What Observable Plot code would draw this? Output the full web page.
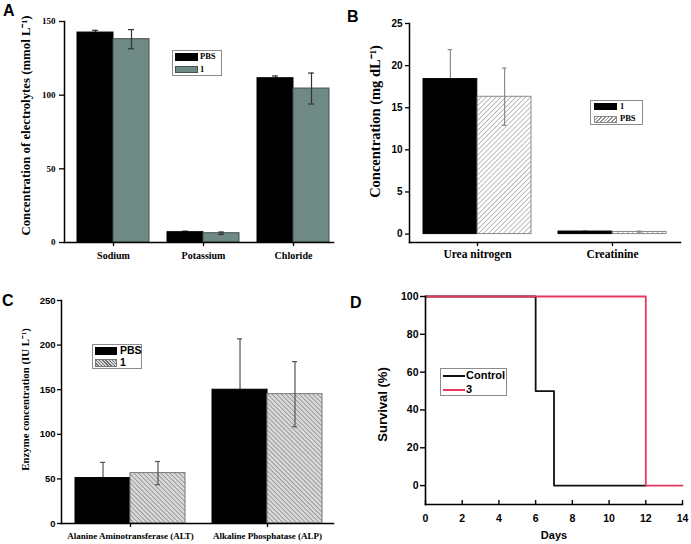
<!DOCTYPE html>
<html>
<head>
<meta charset="utf-8">
<script src="https://cdn.jsdelivr.net/npm/d3@7"></script>
<script src="https://cdn.jsdelivr.net/npm/@observablehq/plot@0.6"></script>
<style>
  body { margin: 0; background: #fff; }
  #root { position: relative; width: 691px; height: 544px; overflow: hidden; background: #fff; }
  .panel { position: absolute; }
  .letter { position: absolute; font-family: "Liberation Sans", Arial, sans-serif; font-weight: bold; font-size: 16px; line-height: 16px; color: #000; }
  .legend { position: absolute; border: 1px solid #8c8c8c; background: #fff; box-sizing: border-box; }
  .sw { position: absolute; box-sizing: border-box; }
  .lab { position: absolute; font-weight: bold; color: #000; white-space: nowrap; line-height: 1; }
</style>
</head>
<body>
<div id="root"></div>
<script>
// ---------- Data ----------
// Panel A: electrolytes
const catsA = ["Sodium", "Potassium", "Chloride"];
const pbsA = [142.5, 7.0, 111.5];
const pbsErrA = [1.5, 0.7, 1.5];
const oneA = [138.0, 6.3, 104.5];
const oneErrA = [6.5, 0.8, 10.5];
const ticksA = [0, 50, 100, 150];

// Panel B: kidney function
const catsB = ["Urea nitrogen", "Creatinine"];
const oneB = [18.4, 0.3];
const oneErrB = [3.5, 0.05];
const pbsB = [16.3, 0.25];
const pbsErrB = [3.4, 0.1];
const ticksB = [0, 5, 10, 15, 20, 25];

// Panel C: enzymes
const catsC = ["Alanine Aminotransferase (ALT)", "Alkaline Phosphatase (ALP)"];
const pbsC = [51, 150];
const pbsErrC = [17.5, 57];
const oneC = [56.5, 145];
const oneErrC = [13, 36.5];
const ticksC = [0, 50, 100, 150, 200, 250];

// Panel D: survival
const controlDays = [0, 6, 7, 12];
const controlSurv = [100, 50, 0, 0];
const threeDays = [0, 12, 14];
const threeSurv = [100, 0, 0];
const ticksDx = [0, 2, 4, 6, 8, 10, 12, 14];
const ticksDy = [0, 20, 40, 60, 80, 100];

// ---------- Helpers ----------
const root = document.getElementById("root");
const SERIF = '"Liberation Serif", "Times New Roman", serif';
const SANS = '"Liberation Sans", Arial, sans-serif';

function place(el, left, top) {
  el.classList.add("panel");
  el.style.left = left + "px";
  el.style.top = top + "px";
  root.appendChild(el);
}

function addDefs(svg, html) {
  const defs = document.createElementNS("http://www.w3.org/2000/svg", "defs");
  defs.innerHTML = html;
  svg.insertBefore(defs, svg.firstChild);
}

function barPanel(cfg) {
  const { W, H, ml, mr, mt, mb, cats, s1, s2, yDomain, yTicks, pi, po, align,
          yFont, xFont, yFontSize, xFontSize, yLabel, yLabelFont, yLabelSize, yLabelX, yLabelY,
          errColor, cap, xTickPad, yTickSize, yTickPad } = cfg;
  const xs = Plot.scale({ x: { type: "band", domain: cats, range: [ml, W - mr], paddingInner: pi, paddingOuter: po, align } });
  const bw = xs.bandwidth;
  const half = bw / 2;
  const rows = cats.map((c, i) => ({ cat: c, v1: s1.values[i], e1: s1.err[i], v2: s2.values[i], e2: s2.err[i] }));
  const c1 = bw / 4, c2 = 3 * bw / 4;
  const frameCY = (mt + H - mb) / 2;
  const svg = Plot.plot({
    width: W, height: H,
    marginLeft: ml, marginRight: mr, marginTop: mt, marginBottom: mb,
    style: { background: "transparent", color: "#000" },
    x: { type: "band", domain: cats, paddingInner: pi, paddingOuter: po, align },
    y: { domain: yDomain },
    marks: [
      // error bars of series 1 (drawn behind its bars)
      Plot.ruleX(rows, { x: "cat", y1: d => d.v1 - d.e1, y2: d => d.v1 + d.e1, dx: -bw / 4, stroke: errColor, strokeWidth: 1.2 }),
      Plot.tickY(rows, { x: "cat", y: d => d.v1 + d.e1, insetLeft: c1 - cap / 2, insetRight: bw - c1 - cap / 2, stroke: errColor, strokeWidth: 1.2 }),
      Plot.barY(rows, { x: "cat", y: "v1", fill: s1.fill, stroke: s1.stroke, strokeWidth: 1, insetRight: half }),
      Plot.barY(rows, { x: "cat", y: "v2", fill: s2.fill, stroke: s2.stroke, strokeWidth: 1, insetLeft: half }),
      // error bars of series 2
      Plot.ruleX(rows, { x: "cat", y1: d => d.v2 - d.e2, y2: d => d.v2 + d.e2, dx: bw / 4, stroke: errColor, strokeWidth: 1.2 }),
      Plot.tickY(rows, { x: "cat", y: d => d.v2 + d.e2, insetLeft: c2 - cap / 2, insetRight: bw - c2 - cap / 2, stroke: errColor, strokeWidth: 1.2 }),
      Plot.tickY(rows, { x: "cat", y: d => d.v2 - d.e2, insetLeft: c2 - cap / 2, insetRight: bw - c2 - cap / 2, stroke: errColor, strokeWidth: 1.2 }),
      Plot.frame({ anchor: "left", strokeWidth: 1.5 }),
      Plot.frame({ anchor: "bottom", strokeWidth: 1.5 }),
      Plot.axisY({ ticks: yTicks, tickSize: yTickSize, tickPadding: yTickPad, strokeWidth: 1.3, label: null,
                   fontFamily: yFont, fontSize: yFontSize, fontWeight: "bold" }),
      Plot.axisX({ tickSize: 4, tickPadding: xTickPad, strokeWidth: 1.3, label: null,
                   fontFamily: xFont, fontSize: xFontSize, fontWeight: "bold" }),
      Plot.text([yLabel], { text: d => d, frameAnchor: "left", textAnchor: "middle", lineAnchor: "middle", rotate: -90,
                            dx: yLabelX - ml, dy: yLabelY - frameCY,
                            fontFamily: yLabelFont, fontSize: yLabelSize, fontWeight: "bold", fill: "#000" })
    ]
  });
  return svg;
}

function legend(box, items, font, size) {
  const lg = document.createElement("div");
  lg.className = "legend";
  Object.assign(lg.style, { left: box.left + "px", top: box.top + "px", width: box.w + "px", height: box.h + "px" });
  items.forEach((it, i) => {
    const row = box.rows[i];
    if (it.line) {
      const ln = document.createElement("div");
      ln.className = "sw";
      Object.assign(ln.style, { left: box.swLeft + "px", top: (row - 1) + "px", width: box.swW + "px", height: "2px", background: it.line });
      lg.appendChild(ln);
    } else {
      const sw = document.createElement("div");
      sw.className = "sw";
      Object.assign(sw.style, { left: box.swLeft + "px", top: (row - box.swH / 2) + "px", width: box.swW + "px", height: box.swH + "px",
        background: it.bg, border: "1px solid " + it.border });
      lg.appendChild(sw);
    }
    const lb = document.createElement("div");
    lb.className = "lab";
    lb.textContent = it.name;
    Object.assign(lb.style, { left: box.labLeft + "px", top: (row - size * 0.55) + "px", fontFamily: font, fontSize: size + "px" });
    lg.appendChild(lb);
  });
  root.appendChild(lg);
}

function letter(t, left, top) {
  const d = document.createElement("div");
  d.className = "letter";
  d.textContent = t;
  d.style.left = left + "px";
  d.style.top = top + "px";
  root.appendChild(d);
}

// ---------- Panel A ----------
const grayA = "#6f8985";
const svgA = barPanel({
  W: 345, H: 272, ml: 64, mr: 12, mt: 21, mb: 30,
  cats: catsA,
  s1: { values: pbsA, err: pbsErrA, fill: "#000", stroke: "#000" },
  s2: { values: oneA, err: oneErrA, fill: grayA, stroke: "#44524f" },
  yDomain: [0, 150], yTicks: ticksA, pi: 0.2, po: 0.094, align: 0.75,
  yFont: SERIF, xFont: SERIF, yFontSize: 9, xFontSize: 10,
  yLabel: "Concentration of electrolytes (mmol L⁻¹)", yLabelFont: SERIF, yLabelSize: 12.8, yLabelX: 25, yLabelY: 125,
  errColor: "#333", cap: 6, xTickPad: 5, yTickSize: 5, yTickPad: 4
});
place(svgA, 0, 0);

// ---------- Panel B ----------
const svgB = barPanel({
  W: 346, H: 272, ml: 64, mr: 11, mt: 23, mb: 30,
  cats: catsB,
  s1: { values: oneB, err: oneErrB, fill: "#000", stroke: "#000" },
  s2: { values: pbsB, err: pbsErrB, fill: "url(#hatchB)", stroke: "#8a8a8a" },
  yDomain: [-1, 25], yTicks: ticksB, pi: 0.2, po: 0.1, align: 0.5,
  yFont: SANS, xFont: SERIF, yFontSize: 10, xFontSize: 11.5,
  yLabel: "Concentration (mg dL⁻¹)", yLabelFont: SERIF, yLabelSize: 14.5, yLabelX: 30, yLabelY: 121,
  errColor: "#8c8c8c", cap: 5, xTickPad: 3, yTickSize: 4, yTickPad: 3
});
addDefs(svgB, `<pattern id="hatchB" width="3.5" height="3.5" patternUnits="userSpaceOnUse" patternTransform="rotate(45)">
  <rect width="3.5" height="3.5" fill="#fff"/><line x1="0" y1="0" x2="0" y2="3.5" stroke="#8f8f8f" stroke-width="1.2"/></pattern>`);
place(svgB, 345, 0);

// ---------- Panel C ----------
const svgC = barPanel({
  W: 345, H: 272, ml: 61, mr: 12, mt: 28, mb: 21,
  cats: catsC,
  s1: { values: pbsC, err: pbsErrC, fill: "#000", stroke: "#000" },
  s2: { values: oneC, err: oneErrC, fill: "url(#hatchC)", stroke: "#777" },
  yDomain: [0, 250], yTicks: ticksC, pi: 0.2, po: 0.09, align: 0.55,
  yFont: SANS, xFont: SERIF, yFontSize: 9.5, xFontSize: 9,
  yLabel: "Enzyme concentration (IU L⁻¹)", yLabelFont: SERIF, yLabelSize: 10.8, yLabelX: 25, yLabelY: 127,
  errColor: "#555", cap: 5, xTickPad: 5, yTickSize: 4, yTickPad: 2
});
addDefs(svgC, `<pattern id="hatchC" width="3.2" height="3.2" patternUnits="userSpaceOnUse" patternTransform="rotate(-45)">
  <rect width="3.2" height="3.2" fill="#d8d8d8"/><line x1="0" y1="0" x2="0" y2="3.2" stroke="#707070" stroke-width="1.1"/></pattern>`);
place(svgC, 0, 272);

// ---------- Panel D ----------
const redD = "#e6395c";
const control = controlDays.map((d, i) => ({ day: d, s: controlSurv[i] }));
const three = threeDays.map((d, i) => ({ day: d, s: threeSurv[i] }));
const svgD = Plot.plot({
  width: 346, height: 272,
  marginLeft: 80, marginRight: 9, marginTop: 24, marginBottom: 40,
  style: { background: "transparent", color: "#000" },
  x: { domain: [0, 14] },
  y: { domain: [-10, 100] },
  marks: [
    Plot.line(control, { x: "day", y: "s", curve: "step-after", stroke: "#111", strokeWidth: 1.8 }),
    Plot.line(three, { x: "day", y: "s", curve: "step-after", stroke: redD, strokeWidth: 1.8 }),
    Plot.frame({ anchor: "left", strokeWidth: 1.6 }),
    Plot.frame({ anchor: "bottom", strokeWidth: 1.6 }),
    Plot.axisY({ ticks: ticksDy, tickSize: 5, tickPadding: 2, strokeWidth: 1.4, label: null,
                 fontFamily: SANS, fontSize: 10.5, fontWeight: "bold" }),
    Plot.axisX({ ticks: ticksDx, tickSize: -4, tickPadding: 14, strokeWidth: 1.4, label: null,
                 fontFamily: SANS, fontSize: 10.5, fontWeight: "bold" }),
    Plot.text(["Survival (%)"], { text: d => d, frameAnchor: "left", textAnchor: "middle", lineAnchor: "middle", rotate: -90,
                                   dx: 37 - 80, dy: 132 - 128,
                                   fontFamily: SANS, fontSize: 13, fontWeight: "bold", fill: "#000" }),
    Plot.text(["Days"], { text: d => d, frameAnchor: "bottom", lineAnchor: "middle", dy: 31,
                          fontFamily: SANS, fontSize: 11, fontWeight: "bold", fill: "#000" })
  ]
});
place(svgD, 345, 272);

// ---------- Legends ----------
legend({ left: 172, top: 50, w: 50, h: 26, rows: [6, 18.5], swLeft: 1.5, swW: 23, swH: 7.5, labLeft: 27 },
  [{ name: "PBS", bg: "#000", border: "#000" }, { name: "1", bg: grayA, border: "#44524f" }], SERIF, 8.5);
legend({ left: 590, top: 100, w: 53, h: 25, rows: [5.5, 18], swLeft: 2.5, swW: 23.5, swH: 7, labLeft: 29 },
  [{ name: "1", bg: "#000", border: "#000" },
   { name: "PBS", bg: "repeating-linear-gradient(135deg, #fff 0 1.6px, #8f8f8f 1.6px 2.6px)", border: "#8a8a8a" }], SERIF, 8.5);
legend({ left: 92, top: 344, w: 50, h: 25, rows: [6, 18], swLeft: 1.5, swW: 22.5, swH: 8, labLeft: 27 },
  [{ name: "PBS", bg: "#000", border: "#000" },
   { name: "1", bg: "repeating-linear-gradient(45deg, #d8d8d8 0 1.4px, #707070 1.4px 2.3px)", border: "#777" }], SANS, 10.5);
legend({ left: 440, top: 368, w: 67, h: 28, rows: [7, 21], swLeft: 1.5, swW: 22, labLeft: 25 },
  [{ name: "Control", line: "#111" }, { name: "3", line: redD }], SANS, 11);

// ---------- Panel letters ----------
letter("A", 3, 3);
letter("B", 347, 9);
letter("C", 2, 293);
letter("D", 350, 295);
</script>
</body>
</html>
